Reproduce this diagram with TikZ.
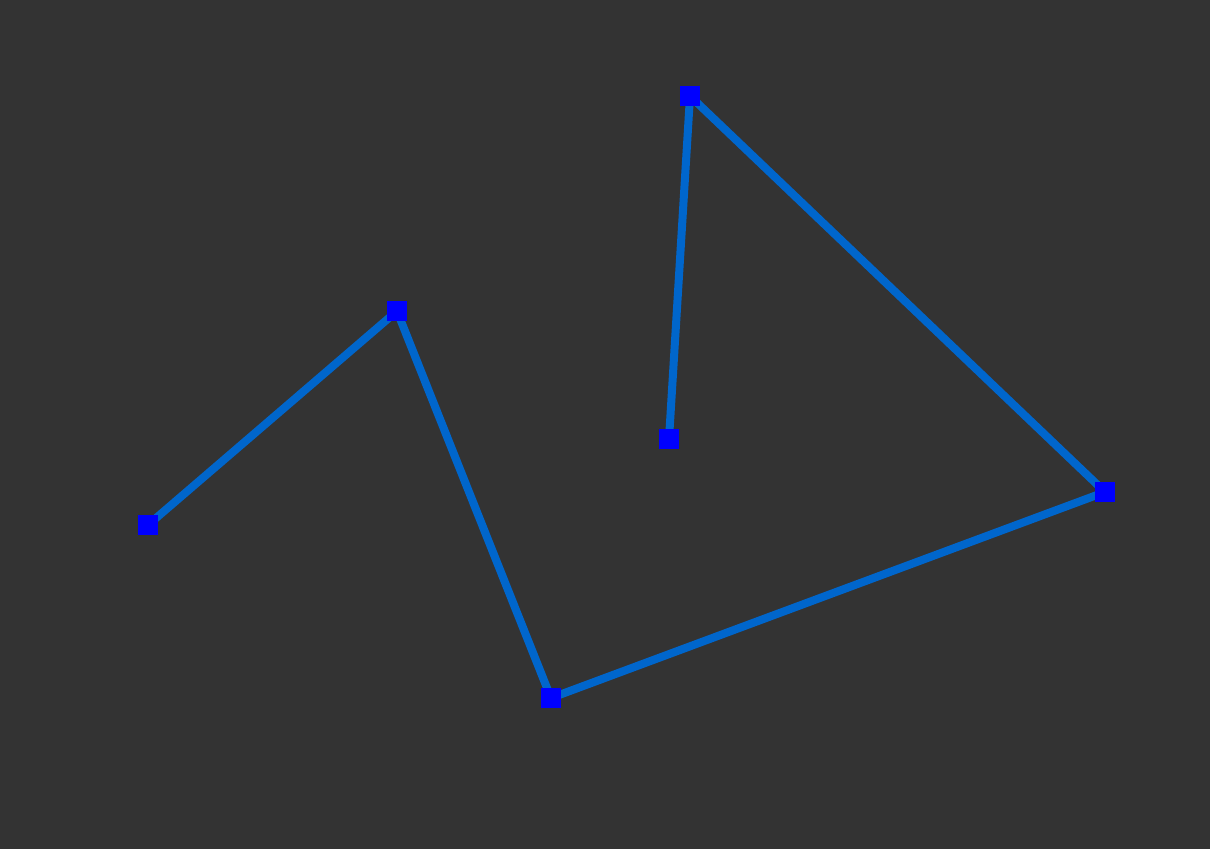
\documentclass[tikz,border=0pt]{standalone}
\begin{document}
\begin{tikzpicture}[x=1pt,y=-1pt,
  pt/.style={fill={rgb,255:red,0;green,0;blue,255},inner sep=0pt,minimum size=20pt,draw=none,rectangle},
  seg/.style={draw={rgb,255:red,0;green,102;blue,204},line width=8pt}]
\fill[fill={rgb,255:red,51;green,51;blue,51}] (0,0) rectangle (1210,849);
\useasboundingbox (0,0) rectangle (1210,849);
\coordinate (a) at (148,525);
\coordinate (b) at (397,311);
\coordinate (c) at (551,698);
\coordinate (d) at (1105,492);
\coordinate (e) at (690,96);
\coordinate (f) at (669,439);
\draw[seg] (a) -- (b) -- (c) -- (d) -- (e) -- (f);
\foreach \p in {a,b,c,d,e,f} \node[pt] (n\p) at (\p) {};
\end{tikzpicture}
\end{document}
